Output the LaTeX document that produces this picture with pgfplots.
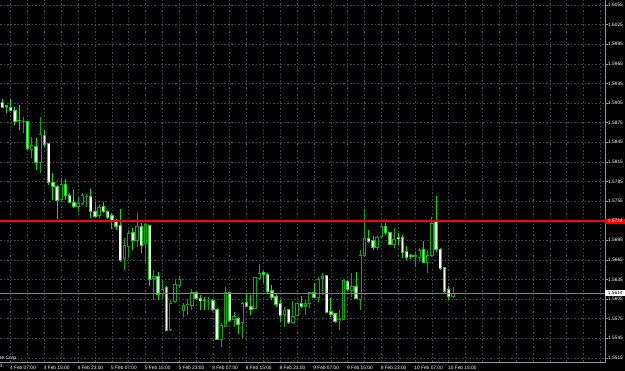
\documentclass[border=0pt]{standalone}
\usepackage{pgfplots}
\pgfplotsset{compat=1.18}
\usepackage{pgfplotstable}
\usepackage{fontspec}
\setmainfont{Liberation Sans}
\definecolor{bearc}{RGB}{0,230,0}
\definecolor{bullc}{RGB}{0,175,0}
\definecolor{gridc}{RGB}{62,70,78}
\definecolor{framec}{RGB}{150,150,150}
\definecolor{lvlred}{RGB}{255,0,0}
\newcommand\mtfont{\fontsize{4.8}{5}\selectfont}

% bear candles (close < open): white body
\pgfplotstableread{
i o h l c
1 1.59061 1.59112 1.58969 1.58985
2 1.59012 1.59020 1.58902 1.59008
3 1.58985 1.59107 1.58933 1.58943
4 1.58933 1.58994 1.58714 1.58764
5 1.58790 1.59020 1.58637 1.58786
7 1.58764 1.58780 1.58331 1.58357
9 1.58392 1.58510 1.58025 1.58137
11 1.58561 1.58637 1.58382 1.58408
12 1.58423 1.58434 1.57795 1.57837
13 1.57831 1.57975 1.57566 1.57769
14 1.57780 1.57795 1.57270 1.57566
16 1.57806 1.57883 1.57566 1.57642
17 1.57642 1.57668 1.57515 1.57531
18 1.57531 1.57719 1.57439 1.57463
22 1.57627 1.57730 1.57286 1.57387
23 1.57387 1.57540 1.57286 1.57321
25 1.57463 1.57540 1.57362 1.57387
26 1.57387 1.57413 1.57270 1.57301
27 1.57321 1.57362 1.57122 1.57249
28 1.57234 1.57270 1.57107 1.57157
29 1.57172 1.57428 1.56621 1.56647
32 1.57065 1.57133 1.56801 1.56943
34 1.57157 1.57209 1.56759 1.56877
36 1.57179 1.57183 1.56250 1.56342
38 1.56392 1.56468 1.56035 1.56127
40 1.56230 1.56250 1.55565 1.55577
47 1.56153 1.56162 1.56035 1.56051
48 1.56061 1.56112 1.55882 1.56025
49 1.56035 1.56086 1.55882 1.56032
51 1.56035 1.56046 1.55871 1.55893
52 1.55893 1.55908 1.55423 1.55434
55 1.56153 1.56162 1.55703 1.55729
57 1.55755 1.55780 1.55515 1.55653
59 1.55994 1.56147 1.55933 1.55943
60 1.55943 1.56112 1.55806 1.55897
63 1.56453 1.56484 1.56291 1.56433
64 1.56433 1.56444 1.56147 1.56162
65 1.56178 1.56265 1.56035 1.56077
66 1.56086 1.56138 1.55924 1.55974
67 1.55985 1.56035 1.55703 1.55806
69 1.55882 1.55893 1.55668 1.55688
72 1.55985 1.56096 1.55908 1.55933
75 1.56147 1.56300 1.56061 1.56077
78 1.56403 1.56418 1.55832 1.55847
79 1.55856 1.56061 1.55780 1.55816
80 1.55821 1.55832 1.55688 1.55703
83 1.56315 1.56342 1.56178 1.56199
85 1.56239 1.56468 1.56046 1.56061
88 1.56980 1.57107 1.56903 1.56928
89 1.56943 1.57015 1.56801 1.56842
92 1.57168 1.57209 1.57030 1.57065
93 1.57065 1.57081 1.56877 1.56892
95 1.56990 1.57065 1.56877 1.56974
96 1.56995 1.57030 1.56673 1.56759
97 1.56775 1.56862 1.56648 1.56689
98 1.56709 1.56739 1.56658 1.56704
101 1.56811 1.56938 1.56597 1.56606
104 1.57234 1.57627 1.56775 1.56811
105 1.56811 1.56827 1.56494 1.56520
106 1.56536 1.56545 1.56147 1.56173
107 1.56188 1.56250 1.56035 1.56096
}\bear

% bull candles (close > open): black body
\pgfplotstableread{
i o h l c
6 1.58770 1.58841 1.58596 1.58775
8 1.58346 1.58526 1.58204 1.58408
10 1.58137 1.58832 1.57975 1.58576
15 1.57566 1.57898 1.57540 1.57806
19 1.57463 1.57616 1.57387 1.57515
20 1.57505 1.57668 1.57489 1.57642
21 1.57616 1.57658 1.57463 1.57627
24 1.57336 1.57489 1.57286 1.57454
30 1.56673 1.56980 1.56494 1.56866
31 1.56851 1.57107 1.56673 1.57056
33 1.56954 1.57362 1.56851 1.57168
35 1.56903 1.57218 1.56597 1.57194
37 1.56367 1.56494 1.56035 1.56403
39 1.56127 1.56342 1.56061 1.56199
41 1.55577 1.56035 1.55561 1.55985
42 1.56009 1.56342 1.55994 1.56280
43 1.56265 1.56403 1.56214 1.56342
44 1.55882 1.55985 1.55780 1.55948
45 1.55954 1.56046 1.55806 1.55974
46 1.55959 1.56199 1.55882 1.56147
50 1.56017 1.56086 1.55882 1.56020
53 1.55423 1.55679 1.55320 1.55637
54 1.55637 1.56230 1.55627 1.56153
56 1.55740 1.55856 1.55627 1.55780
58 1.55688 1.56009 1.55449 1.55985
61 1.55908 1.56392 1.55893 1.56383
62 1.56357 1.56586 1.56342 1.56444
68 1.55816 1.55933 1.55617 1.55871
70 1.55688 1.56025 1.55668 1.55780
71 1.55806 1.55989 1.55790 1.55985
73 1.55943 1.56035 1.55806 1.55985
74 1.55985 1.56162 1.55908 1.56147
76 1.56077 1.56383 1.56009 1.56352
77 1.56361 1.56444 1.56112 1.56403
81 1.55718 1.55882 1.55577 1.55744
82 1.55740 1.56342 1.55729 1.56331
84 1.56188 1.56444 1.56086 1.56239
86 1.56046 1.56801 1.55882 1.56724
87 1.56724 1.57428 1.56698 1.56980
90 1.56842 1.57015 1.56801 1.56995
91 1.57004 1.57209 1.56980 1.57157
94 1.56892 1.57133 1.56827 1.56964
99 1.56704 1.56790 1.56545 1.56709
100 1.56689 1.56827 1.56621 1.56790
102 1.56606 1.56801 1.56444 1.56724
103 1.56724 1.57310 1.56698 1.57209
108 1.56086 1.56239 1.56061 1.56138
}\bull

\pgfplotsset{
  wick/.style={draw=none, mark=none, forget plot,
    error bars/.cd, y dir=minus, y explicit, error mark=none,
    error bar style={draw=#1, line width=0.9pt, solid}},
  body/.style 2 args={draw=none, mark=none, forget plot,
    error bars/.cd, y dir=both, y explicit, error mark=none,
    error bar style={draw=#1, line width=#2, solid}},
}

\begin{document}
\begin{tikzpicture}
\useasboundingbox (0pt,0pt) rectangle (625pt,371pt);
\fill[black] (0pt,0pt) rectangle (625pt,371pt);
\begin{axis}[
  name=ax, at={(0pt,9pt)}, anchor=south west,
  scale only axis, width=605pt, height=362pt,
  xmin=0.454, xmax=144.09, ymin=1.55086, ymax=1.60627,
  axis line style={draw=none},
  grid=major,
  major grid style={draw=gridc, line width=0.6pt, dash pattern=on 1.5pt off 2pt},
  xtick={3,7,...,143}, xticklabels={}, xtick style={draw=none},
  extra x ticks={3,11,...,107},
  extra x tick labels={4 Feb 07:00,4 Feb 15:00,4 Feb 23:00,5 Feb 07:00,5 Feb 15:00,5 Feb 23:00,8 Feb 07:00,8 Feb 15:00,8 Feb 23:00,9 Feb 07:00,9 Feb 15:00,9 Feb 23:00,10 Feb 07:00,10 Feb 15:00},
  extra x tick style={grid=none},
  xticklabel style={anchor=north west, inner sep=0pt, xshift=-0.8pt, yshift=-1.5pt},
  ytick={1.5515,1.5545,1.5575,1.5605,1.5635,1.5665,1.5695,1.5725,1.5755,1.5785,1.5815,1.5845,1.5875,1.5905,1.5935,1.5965,1.5995,1.6025,1.6055},
  ytick pos=right, yticklabel pos=right,
  tick align=outside, major tick length=2.5pt,
  ytick style={draw=framec, line width=0.6pt},
  scaled y ticks=false,
  yticklabel style={anchor=west, inner sep=0pt, xshift=0.5pt,
    /pgf/number format/.cd, fixed, fixed zerofill, precision=4},
  ticklabel style={font=\mtfont, text=white},
  /pgf/number format/assume math mode=true,
]
% wicks
\addplot[wick=bearc] table[x=i, y=h, y error minus expr=\thisrow{h}-\thisrow{l}] {\bear};
\addplot[wick=bullc] table[x=i, y=h, y error minus expr=\thisrow{h}-\thisrow{l}] {\bull};
% bodies: outline
\addplot[body={bearc}{3.4pt}] table[x=i, y expr=(\thisrow{o}+\thisrow{c})/2,
  y error expr={abs(\thisrow{o}-\thisrow{c})/2+0.0000765}] {\bear};
\addplot[body={bullc}{3.4pt}] table[x=i, y expr=(\thisrow{o}+\thisrow{c})/2,
  y error expr={abs(\thisrow{o}-\thisrow{c})/2+0.0000765}] {\bull};
% bodies: fill
\addplot[body={white}{1.8pt}] table[x=i, y expr=(\thisrow{o}+\thisrow{c})/2,
  y error expr={max(abs(\thisrow{o}-\thisrow{c})/2-0.0000765,0)}] {\bear};
\addplot[body={black}{1.8pt}] table[x=i, y expr=(\thisrow{o}+\thisrow{c})/2,
  y error expr={max(abs(\thisrow{o}-\thisrow{c})/2-0.0000765,0)}] {\bull};
% level line and bid line
\addplot[draw=lvlred, line width=1.4pt, forget plot] coordinates {(0.454,1.57244) (144.09,1.57244)};
\addplot[draw=gray, line width=0.8pt, forget plot] coordinates {(0.454,1.56143) (144.09,1.56143)};
\coordinate (redR) at (axis cs:144.09,1.57244);
\coordinate (bidR) at (axis cs:144.09,1.56143);
\end{axis}
\draw[framec, line width=0.8pt] (ax.south west) -- (ax.south east) -- (ax.north east);
\node[fill=lvlred, text=white, font=\mtfont, anchor=west, inner sep=0pt,
  minimum height=5pt, minimum width=20pt] at (redR) {1.5724};
\node[fill=white, text=black, font=\mtfont, anchor=west, inner sep=0pt,
  minimum height=6pt, minimum width=20pt] at (bidR) {1.5614};
\node[anchor=east, text=white, font=\mtfont, inner sep=0pt] at (17.5pt,13pt) {MetaQuotes Software Corp.};
\node[anchor=north east, text=white, font=\mtfont, inner sep=0pt] at (2.5pt,7.5pt) {4 Feb 05:00};
\end{tikzpicture}
\end{document}
